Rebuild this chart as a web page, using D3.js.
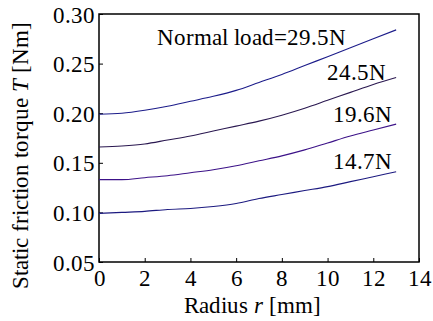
<!DOCTYPE html>
<html><head><meta charset="utf-8">
<script src="https://cdn.jsdelivr.net/npm/d3@7"></script>
<style>
@font-face { font-family: "ChartSerif"; src: local("Liberation Serif"), local("LiberationSerif"), local("Times New Roman"); font-style: normal; }
@font-face { font-family: "ChartSerif"; src: local("Liberation Serif Italic"), local("LiberationSerif-Italic"); font-style: italic; }
body{margin:0;background:#fff;}
svg text{font-family:"ChartSerif";}
</style>
</head><body>
<svg id="c" width="433" height="321"></svg>
<script>
const radius = [0,1,2,3,4,5,6,7,8,9,10,11,12,13];
const load295 = [0.199,0.200,0.203,0.207,0.212,0.217,0.223,0.231,0.239,0.248,0.257,0.266,0.275,0.284];
const load245 = [0.166,0.167,0.169,0.173,0.177,0.182,0.187,0.192,0.198,0.205,0.213,0.221,0.229,0.236];
const load196 = [0.133,0.133,0.135,0.137,0.140,0.143,0.147,0.152,0.157,0.163,0.170,0.177,0.183,0.189];
const load147 = [0.099,0.100,0.101,0.103,0.104,0.106,0.109,0.114,0.118,0.122,0.126,0.131,0.136,0.141];
const seriesLabels = ["Normal load=29.5N","24.5N","19.6N","14.7N"];
const xTicks = [0,2,4,6,8,10,12,14];
const yTicks = [0.05,0.10,0.15,0.20,0.25,0.30];

const series = [
  {vals: load295, color:"#1c1c8a", label: seriesLabels[0], lx: 346, ly: 45},
  {vals: load245, color:"#2a1850", label: seriesLabels[1], lx: 386, ly: 80},
  {vals: load196, color:"#3c1288", label: seriesLabels[2], lx: 392, ly: 122},
  {vals: load147, color:"#1c1a80", label: seriesLabels[3], lx: 392, ly: 169}
];

const FONT = "ChartSerif";
const svg = d3.select("#c");
const L=99, R=419, T=14, B=262;
const x = d3.scaleLinear().domain([0,14]).range([L,R]);
const y = d3.scaleLinear().domain([0.05,0.30]).range([B,T]);
const fs = 23;

function setFont(sel){ sel.attr("font-family",FONT).attr("font-size",fs); }

const gx = svg.append("g").attr("transform",`translate(0,${B})`)
  .call(d3.axisBottom(x).tickValues(xTicks).tickSize(-4).tickPadding(8).tickFormat(d3.format("d")));
const gy = svg.append("g").attr("transform",`translate(${L},0)`)
  .call(d3.axisLeft(y).tickValues(yTicks).tickSize(-4).tickPadding(4).tickFormat(d3.format(".2f")));
[gx,gy].forEach(g=>{
  g.attr("font-family",FONT).attr("font-size",fs);
  g.select(".domain").remove();
  g.selectAll("line").attr("stroke","#000").attr("stroke-width",1);
  g.selectAll("text").call(setFont).attr("fill","#000");
});
gx.selectAll("text").attr("dy","0.71em");
gy.selectAll("text").attr("dy","0.35em");

svg.append("rect").attr("x",L).attr("y",T).attr("width",R-L).attr("height",B-T)
  .attr("fill","none").attr("stroke","#000").attr("stroke-width",1.5);

const line = d3.line().x((d,i)=>x(radius[i])).y(d=>y(d)).curve(d3.curveMonotoneX);
series.forEach(s=>{
  svg.append("path").attr("d",line(s.vals)).attr("fill","none").attr("stroke",s.color).attr("stroke-width",1.1);
  svg.append("text").attr("x",s.lx).attr("y",s.ly).attr("text-anchor","end").call(setFont).text(s.label);
});

const xl = svg.append("text").attr("x",(L+R)/2-7).attr("y",313).attr("text-anchor","middle").call(setFont);
xl.append("tspan").text("Radius ");
xl.append("tspan").attr("font-style","italic").text("r");
xl.append("tspan").text(" [mm]");

const yl = svg.append("text").attr("transform",`translate(28,155) rotate(-90)`).attr("text-anchor","middle").call(setFont);
yl.append("tspan").text("Static friction torque ");
yl.append("tspan").attr("font-style","italic").text("T");
yl.append("tspan").text(" [Nm]");
</script>
</body></html>
